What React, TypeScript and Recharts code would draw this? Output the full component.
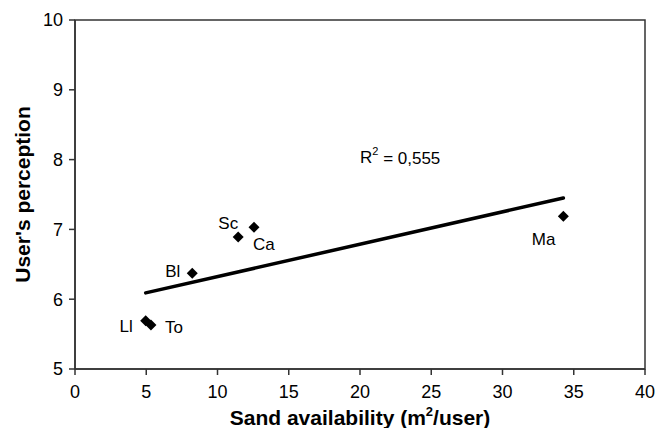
import React from 'react';
import { ScatterChart, Scatter, XAxis, YAxis, ReferenceArea } from 'recharts';

const pointNames = ['Ll', 'To', 'Bl', 'Sc', 'Ca', 'Ma'];
const sandAvailability = [4.96, 5.33, 8.23, 11.45, 12.56, 34.27];
const userPerception = [5.69, 5.63, 6.37, 6.89, 7.03, 7.19];
const trendX = [4.96, 34.27];
const trendY = [6.09, 7.45];
const xTicks = [0, 5, 10, 15, 20, 25, 30, 35, 40];
const yTicks = [5, 6, 7, 8, 9, 10];
const rSquaredText = '0,555';
const rSquaredPos = { x: 20.0, y: 8.03 };

const FONT = '"Liberation Sans", Arial, sans-serif';
const AXIS = '#333';

const points = pointNames.map((name, i) => ({ name, x: sandAvailability[i], y: userPerception[i] }));
const trend = trendX.map((x, i) => ({ x, y: trendY[i] }));
const rData = [{ x: rSquaredPos.x, y: rSquaredPos.y }];

const labelPlacement: Record<string, { dx: number; dy: number; anchor: 'start' | 'end' }> = {
  Ll: { dx: -13, dy: 6, anchor: 'end' },
  To: { dx: 14, dy: 2, anchor: 'start' },
  Bl: { dx: -12, dy: -2, anchor: 'end' },
  Sc: { dx: 0, dy: -14, anchor: 'end' },
  Ca: { dx: -1, dy: 17, anchor: 'start' },
  Ma: { dx: -8, dy: 23, anchor: 'end' },
};

const DiamondWithLabel = (props: any) => {
  const { cx, cy, payload } = props;
  if (cx == null || cy == null) return null;
  const h = 5.5;
  const p = labelPlacement[payload.name] || { dx: 8, dy: 0, anchor: 'start' };
  return (
    <g>
      <polygon points={`${cx},${cy - h} ${cx + h},${cy} ${cx},${cy + h} ${cx - h},${cy}`} fill="#000" />
      <text
        x={cx + p.dx}
        y={cy + p.dy}
        textAnchor={p.anchor}
        dominantBaseline="central"
        fontSize={17}
        fontFamily={FONT}
        fill="#000"
      >
        {payload.name}
      </text>
    </g>
  );
};

const RSquaredShape = (props: any) => {
  const { cx, cy } = props;
  if (cx == null || cy == null) return null;
  return (
    <text x={cx} y={cy} dominantBaseline="central" fontSize={17} fontFamily={FONT} fill="#000">
      R
      <tspan fontSize={11} dy={-7}>2</tspan>
      <tspan dy={7}>{` = ${rSquaredText}`}</tspan>
    </text>
  );
};

const XTitle = (props: any) => {
  const { viewBox } = props;
  const cx = viewBox.x + viewBox.width / 2;
  const y = viewBox.y + viewBox.height - 3;
  return (
    <text x={cx} y={y} textAnchor="middle" fontSize={21} fontWeight="bold" fontFamily={FONT} fill="#000">
      Sand availability (m
      <tspan fontSize={13} dy={-9}>2</tspan>
      <tspan dy={9}>/user)</tspan>
    </text>
  );
};

const YTitle = (props: any) => {
  const { viewBox } = props;
  const x = 22;
  const y = viewBox.y + viewBox.height / 2;
  return (
    <text
      x={x}
      y={y}
      transform={`rotate(-90 ${x} ${y})`}
      textAnchor="middle"
      dominantBaseline="central"
      fontSize={21}
      fontWeight="bold"
      fontFamily={FONT}
      fill="#000"
    >
      User's perception
    </text>
  );
};

export default function App() {
  return (
    <div style={{ position: 'absolute', left: 0, top: 0, width: 657, height: 428, background: '#fff' }}>
      <ScatterChart width={657} height={428} margin={{ top: 20, right: 12, bottom: 0, left: 0 }}>
        <XAxis
          type="number"
          dataKey="x"
          domain={[0, 40]}
          ticks={xTicks}
          interval={0}
          height={59}
          tickSize={6}
          tickMargin={10}
          stroke={AXIS}
          axisLine={{ stroke: AXIS, strokeWidth: 1.5 }}
          tickLine={{ stroke: AXIS, strokeWidth: 1.5 }}
          tick={{ fontSize: 18, fill: '#000', fontFamily: FONT }}
          label={{ content: XTitle }}
        />
        <YAxis
          type="number"
          dataKey="y"
          domain={[5, 10]}
          ticks={yTicks}
          interval={0}
          width={75}
          tickSize={6}
          tickMargin={6}
          stroke={AXIS}
          axisLine={{ stroke: AXIS, strokeWidth: 1.5 }}
          tickLine={{ stroke: AXIS, strokeWidth: 1.5 }}
          tick={{ fontSize: 18, fill: '#000', fontFamily: FONT }}
          label={{ content: YTitle }}
        />
        <ReferenceArea x1={0} x2={40} y1={5} y2={10} fill="none" fillOpacity={0} stroke={AXIS} strokeWidth={1.5} />
        <Scatter
          data={trend}
          line={{ stroke: '#000', strokeWidth: 3.5, strokeLinecap: 'round' }}
          shape={() => null}
          isAnimationActive={false}
        />
        <Scatter data={points} shape={DiamondWithLabel} isAnimationActive={false} />
        <Scatter data={rData} shape={RSquaredShape} isAnimationActive={false} />
      </ScatterChart>
    </div>
  );
}
